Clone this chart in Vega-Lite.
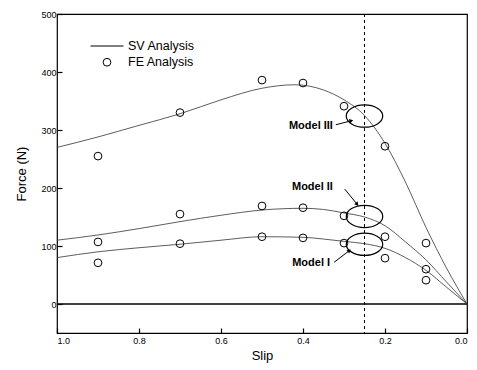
{
  "$schema": "https://vega.github.io/schema/vega-lite/v6.json",
  "autosize": "none",
  "width": 410,
  "height": 319,
  "padding": {"left": 57, "top": 14, "right": 10, "bottom": 37},
  "background": "white",
  "config": {
    "view": {"stroke": "black", "strokeWidth": 1.2},
    "font": "Liberation Sans",
    "axis": {
      "domain": false,
      "grid": false,
      "tickColor": "black",
      "tickSize": -5,
      "tickWidth": 1.2,
      "labelColor": "black",
      "labelFontSize": 9,
      "labelFont": "Liberation Sans",
      "titleFont": "Liberation Sans",
      "titleFontWeight": "normal",
      "titleFontSize": 13,
      "titleColor": "black"
    },
    "legend": {
      "orient": "none",
      "legendX": 33,
      "legendY": 15,
      "labelFontSize": 12.5,
      "labelFont": "Liberation Sans",
      "labelColor": "black",
      "rowPadding": 3,
      "symbolStrokeWidth": 1,
      "symbolStrokeColor": "black",
      "symbolFillColor": "transparent",
      "labelOffset": 4,
      "title": null
    }
  },
  "datasets": {
    "sv": [
      {"model": "III", "slip": 1.0, "force": 270}, {"model": "III", "slip": 0.9, "force": 288}, {"model": "III", "slip": 0.8, "force": 308}, {"model": "III", "slip": 0.7, "force": 328}, {"model": "III", "slip": 0.6, "force": 352}, {"model": "III", "slip": 0.5, "force": 372}, {"model": "III", "slip": 0.42, "force": 378}, {"model": "III", "slip": 0.35, "force": 369}, {"model": "III", "slip": 0.3, "force": 352}, {"model": "III", "slip": 0.25, "force": 325}, {"model": "III", "slip": 0.2, "force": 277}, {"model": "III", "slip": 0.15, "force": 210}, {"model": "III", "slip": 0.1, "force": 132}, {"model": "III", "slip": 0.05, "force": 62}, {"model": "III", "slip": 0.0, "force": 0},
      {"model": "II", "slip": 1.0, "force": 110}, {"model": "II", "slip": 0.9, "force": 119}, {"model": "II", "slip": 0.8, "force": 130}, {"model": "II", "slip": 0.7, "force": 142}, {"model": "II", "slip": 0.6, "force": 153}, {"model": "II", "slip": 0.5, "force": 162}, {"model": "II", "slip": 0.4, "force": 165}, {"model": "II", "slip": 0.35, "force": 163}, {"model": "II", "slip": 0.3, "force": 157}, {"model": "II", "slip": 0.25, "force": 150}, {"model": "II", "slip": 0.2, "force": 135}, {"model": "II", "slip": 0.15, "force": 107}, {"model": "II", "slip": 0.1, "force": 76}, {"model": "II", "slip": 0.05, "force": 38}, {"model": "II", "slip": 0.0, "force": 0},
      {"model": "I", "slip": 1.0, "force": 80}, {"model": "I", "slip": 0.9, "force": 90}, {"model": "I", "slip": 0.8, "force": 97}, {"model": "I", "slip": 0.7, "force": 103}, {"model": "I", "slip": 0.6, "force": 110}, {"model": "I", "slip": 0.5, "force": 116}, {"model": "I", "slip": 0.4, "force": 115}, {"model": "I", "slip": 0.35, "force": 112}, {"model": "I", "slip": 0.3, "force": 108}, {"model": "I", "slip": 0.25, "force": 104}, {"model": "I", "slip": 0.2, "force": 96}, {"model": "I", "slip": 0.15, "force": 80}, {"model": "I", "slip": 0.1, "force": 58}, {"model": "I", "slip": 0.05, "force": 29}, {"model": "I", "slip": 0.0, "force": 0}
    ],
    "fe": [
      {"model": "III", "slip": 0.9, "force": 255, "type": "FE Analysis"}, {"model": "III", "slip": 0.7, "force": 330, "type": "FE Analysis"}, {"model": "III", "slip": 0.5, "force": 386, "type": "FE Analysis"}, {"model": "III", "slip": 0.4, "force": 381, "type": "FE Analysis"}, {"model": "III", "slip": 0.3, "force": 341, "type": "FE Analysis"}, {"model": "III", "slip": 0.2, "force": 272, "type": "FE Analysis"}, {"model": "III", "slip": 0.1, "force": 105, "type": "FE Analysis"},
      {"model": "II", "slip": 0.9, "force": 107, "type": "FE Analysis"}, {"model": "II", "slip": 0.7, "force": 155, "type": "FE Analysis"}, {"model": "II", "slip": 0.5, "force": 169, "type": "FE Analysis"}, {"model": "II", "slip": 0.4, "force": 166, "type": "FE Analysis"}, {"model": "II", "slip": 0.3, "force": 152, "type": "FE Analysis"}, {"model": "II", "slip": 0.2, "force": 116, "type": "FE Analysis"}, {"model": "II", "slip": 0.1, "force": 60, "type": "FE Analysis"},
      {"model": "I", "slip": 0.9, "force": 71, "type": "FE Analysis"}, {"model": "I", "slip": 0.7, "force": 104, "type": "FE Analysis"}, {"model": "I", "slip": 0.5, "force": 116, "type": "FE Analysis"}, {"model": "I", "slip": 0.4, "force": 114, "type": "FE Analysis"}, {"model": "I", "slip": 0.3, "force": 105, "type": "FE Analysis"}, {"model": "I", "slip": 0.2, "force": 79, "type": "FE Analysis"}, {"model": "I", "slip": 0.1, "force": 41, "type": "FE Analysis"}
    ],
    "ann": [
      {"model": "III", "label": "Model III", "lx": 0.327, "ly": 307, "ax": 0.32, "ay": 309, "hx": 0.282, "hy": 316, "ex": 0.25, "ey": 324},
      {"model": "II", "label": "Model II", "lx": 0.327, "ly": 202, "ax": 0.298, "ay": 198, "hx": 0.268, "hy": 172, "ex": 0.25, "ey": 151},
      {"model": "I", "label": "Model I", "lx": 0.334, "ly": 71, "ax": 0.324, "ay": 72, "hx": 0.287, "hy": 92, "ex": 0.25, "ey": 103}
    ]
  },
  "layer": [
    {
      "data": {"values": [{"y": 0}]},
      "mark": {"type": "rule", "color": "black", "strokeWidth": 1.3},
      "encoding": {"y": {"field": "y", "type": "quantitative", "scale": {"domain": [-50, 500]}}}
    },
    {
      "data": {"values": [{"x": 0.25}]},
      "mark": {"type": "rule", "color": "black", "strokeWidth": 1, "strokeDash": [3, 3]},
      "encoding": {"x": {"field": "x", "type": "quantitative", "scale": {"domain": [1, 0]}}}
    },
    {
      "data": {"name": "sv"},
      "mark": {"type": "line", "interpolate": "monotone", "color": "#333", "strokeWidth": 0.8},
      "encoding": {
        "x": {"field": "slip", "type": "quantitative", "scale": {"domain": [1, 0], "nice": false},
          "axis": {"title": "Slip", "values": [1, 0.8, 0.6, 0.4, 0.2, 0], "format": ".1f", "labelPadding": 8, "titlePadding": 4}},
        "y": {"field": "force", "type": "quantitative", "scale": {"domain": [-50, 500], "nice": false},
          "axis": {"title": "Force (N)", "values": [0, 100, 200, 300, 400, 500], "format": "d", "labelPadding": 6, "titlePadding": 12}},
        "detail": {"field": "model"}
      }
    },
    {
      "data": {"name": "fe"},
      "mark": {"type": "point", "filled": false, "color": "black", "strokeWidth": 1, "opacity": 1},
      "encoding": {
        "x": {"field": "slip", "type": "quantitative"},
        "y": {"field": "force", "type": "quantitative"},
        "shape": {"field": "type", "type": "nominal",
          "scale": {"domain": ["SV Analysis", "FE Analysis"], "range": ["stroke", "circle"]}},
        "size": {"field": "type", "type": "nominal",
          "scale": {"domain": ["SV Analysis", "FE Analysis"], "range": [1089, 60]}}
      }
    },
    {
      "data": {"name": "ann"},
      "mark": {"type": "point", "shape": "M -1 0 A 1 0.61 0 1 0 1 0 A 1 0.61 0 1 0 -1 0", "filled": false, "color": "black", "strokeWidth": 1.2, "size": 1330, "opacity": 1},
      "encoding": {
        "x": {"field": "ex", "type": "quantitative"},
        "y": {"field": "ey", "type": "quantitative"}
      }
    },
    {
      "data": {"name": "ann"},
      "mark": {"type": "rule", "color": "black", "strokeWidth": 1},
      "encoding": {
        "x": {"field": "ax", "type": "quantitative"},
        "y": {"field": "ay", "type": "quantitative"},
        "x2": {"field": "hx"},
        "y2": {"field": "hy"}
      }
    },
    {
      "data": {"name": "ann"},
      "transform": [{"filter": "datum.model === 'III'"}],
      "mark": {"type": "point", "shape": "triangle-right", "filled": true, "color": "black", "size": 20, "angle": 346, "opacity": 1},
      "encoding": {"x": {"field": "hx", "type": "quantitative"}, "y": {"field": "hy", "type": "quantitative"}}
    },
    {
      "data": {"name": "ann"},
      "transform": [{"filter": "datum.model === 'II'"}],
      "mark": {"type": "point", "shape": "triangle-right", "filled": true, "color": "black", "size": 20, "angle": 51, "opacity": 1},
      "encoding": {"x": {"field": "hx", "type": "quantitative"}, "y": {"field": "hy", "type": "quantitative"}}
    },
    {
      "data": {"name": "ann"},
      "transform": [{"filter": "datum.model === 'I'"}],
      "mark": {"type": "point", "shape": "triangle-right", "filled": true, "color": "black", "size": 20, "angle": 323, "opacity": 1},
      "encoding": {"x": {"field": "hx", "type": "quantitative"}, "y": {"field": "hy", "type": "quantitative"}}
    },
    {
      "data": {"name": "ann"},
      "mark": {"type": "text", "align": "right", "baseline": "middle", "fontWeight": "bold", "fontSize": 11, "color": "black", "font": "Liberation Sans"},
      "encoding": {
        "x": {"field": "lx", "type": "quantitative"},
        "y": {"field": "ly", "type": "quantitative"},
        "text": {"field": "label"},
        "fontStyle": {"condition": {"test": "datum.model === 'III'", "value": "italic"}, "value": "normal"}
      }
    }
  ]
}
